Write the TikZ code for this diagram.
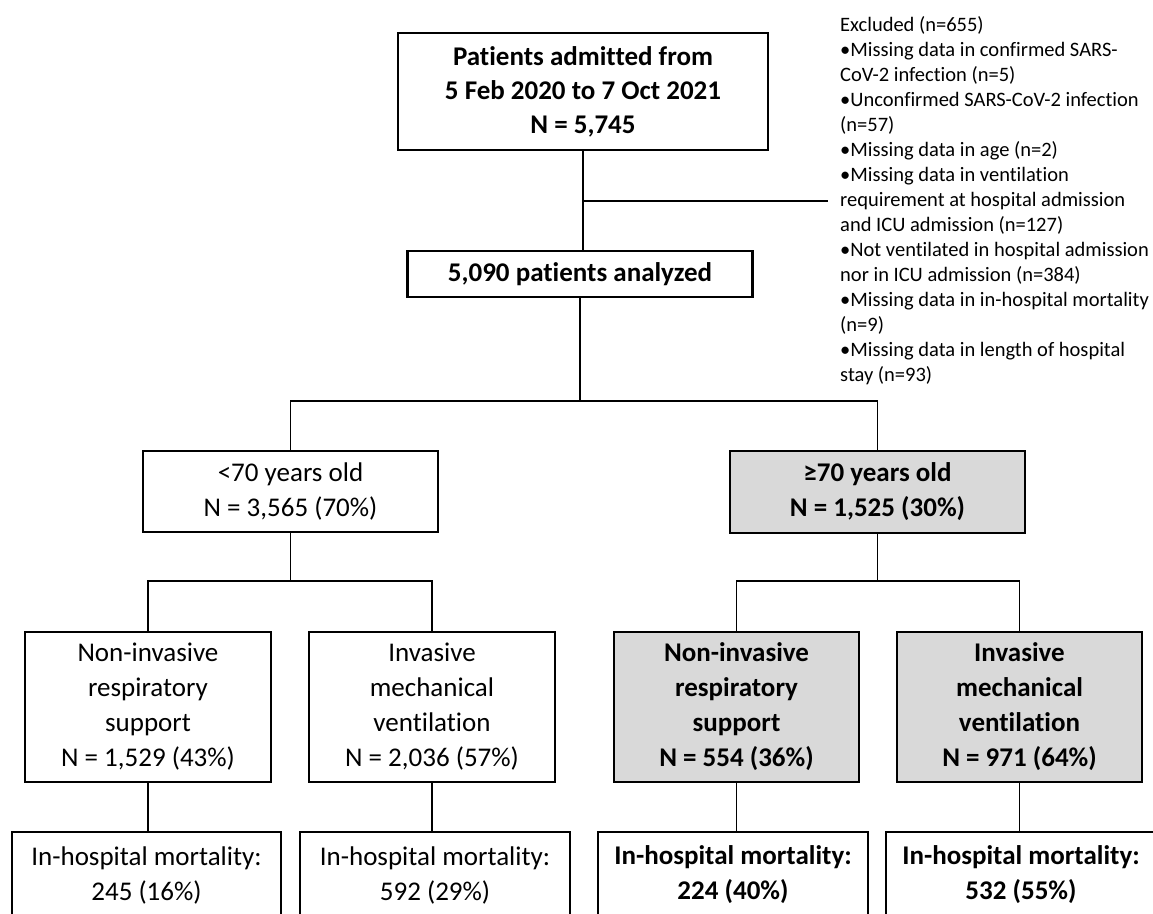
\documentclass[tikz,border=0pt]{standalone}
\usepackage{fontspec}
\setmainfont{Carlito}[Ligatures={NoCommon,NoContextual},Contextuals=NoAlternate]
\definecolor{boxgray}{RGB}{217,217,217}
\begin{document}
\begin{tikzpicture}[x=1pt,y=-1pt,
  box/.style={draw, line width=2.2pt, align=center, inner sep=0pt, fill=white,
    font=\fontsize{27}{35}\selectfont},
  gbox/.style={box, fill=boxgray, font=\bfseries\fontsize{27}{35}\selectfont},
  bbox/.style={box, font=\bfseries\fontsize{27}{35}\selectfont},
  conn/.style={line width=1.8pt}]
\clip (0,0) rectangle (1153,913);
\fill[white] (0,0) rectangle (1153,913);
% nodes
\node[bbox, minimum width=370pt, minimum height=117pt,
  font=\bfseries\fontsize{27}{34}\selectfont] (top) at (583,91.5)
  {Patients admitted from\\5 Feb 2020 to 7 Oct 2021\\N = 5,745};
\node[bbox, minimum width=345pt, minimum height=46pt] (ana) at (580,274)
  {5,090 patients analyzed};
\node[anchor=west, align=left, inner sep=0pt,
  font=\fontsize{20.5}{25}\selectfont] (exc) at (840,201)
  {Excluded (n=655)\\
   •Missing data in confirmed SARS-\\
   CoV-2 infection (n=5)\\
   •Unconfirmed SARS-CoV-2 infection\\
   (n=57)\\
   •Missing data in age (n=2)\\
   •Missing data in ventilation\\
   requirement at hospital admission\\
   and ICU admission (n=127)\\
   •Not ventilated in hospital admission\\
   nor in ICU admission (n=384)\\
   •Missing data in in-hospital mortality\\
   (n=9)\\
   •Missing data in length of hospital\\
   stay (n=93)};
\node[box, minimum width=295pt, minimum height=81pt] (young) at (290.5,491.5)
  {<70 years old\\N = 3,565 (70\%)};
\node[gbox, minimum width=295pt, minimum height=82pt] (old) at (877.5,492)
  {≥70 years old\\N = 1,525 (30\%)};
\node[box, minimum width=246pt, minimum height=150pt] (A) at (148,707)
  {Non-invasive\\respiratory\\support\\N = 1,529 (43\%)};
\node[box, minimum width=246pt, minimum height=150pt] (B) at (432,707)
  {Invasive\\mechanical\\ventilation\\N = 2,036 (57\%)};
\node[gbox, minimum width=245pt, minimum height=150pt] (C) at (736.5,707)
  {Non-invasive\\respiratory\\support\\N = 554 (36\%)};
\node[gbox, minimum width=245pt, minimum height=150pt] (D) at (1019.5,707)
  {Invasive\\mechanical\\ventilation\\N = 971 (64\%)};
\node[box, minimum width=269pt, minimum height=86pt] (Am) at (146.5,875)
  {In-hospital mortality:\\245 (16\%)};
\node[box, minimum width=270pt, minimum height=86pt] (Bm) at (435,875)
  {In-hospital mortality:\\592 (29\%)};
\node[bbox, minimum width=270pt, minimum height=86pt] (Cm) at (733,875)
  {In-hospital mortality:\\224 (40\%)};
\node[bbox, minimum width=270pt, minimum height=86pt] (Dm) at (1021,875)
  {In-hospital mortality:\\532 (55\%)};
% split points
\coordinate (s1) at (0,401);
\coordinate (s2) at (0,581);
% connectors
\draw[conn] (top.south) -- (top.south |- ana.north);
\draw[conn] (top.south |- exc.west) -- ([xshift=-12pt]exc.west);
\draw[conn] (ana.south) -- (ana.south |- s1);
\draw[conn] (young.north) |- (ana.south |- s1) -| (old.north);
\draw[conn] (young.south) -- (young.south |- s2);
\draw[conn] (A.north) |- (young.south |- s2) -| (B.north);
\draw[conn] (old.south) -- (old.south |- s2);
\draw[conn] (C.north) |- (old.south |- s2) -| (D.north);
\draw[conn] (A.south) -- (A.south |- Am.north);
\draw[conn] (B.south) -- (B.south |- Bm.north);
\draw[conn] (C.south) -- (C.south |- Cm.north);
\draw[conn] (D.south) -- (D.south |- Dm.north);
\end{tikzpicture}
\end{document}
